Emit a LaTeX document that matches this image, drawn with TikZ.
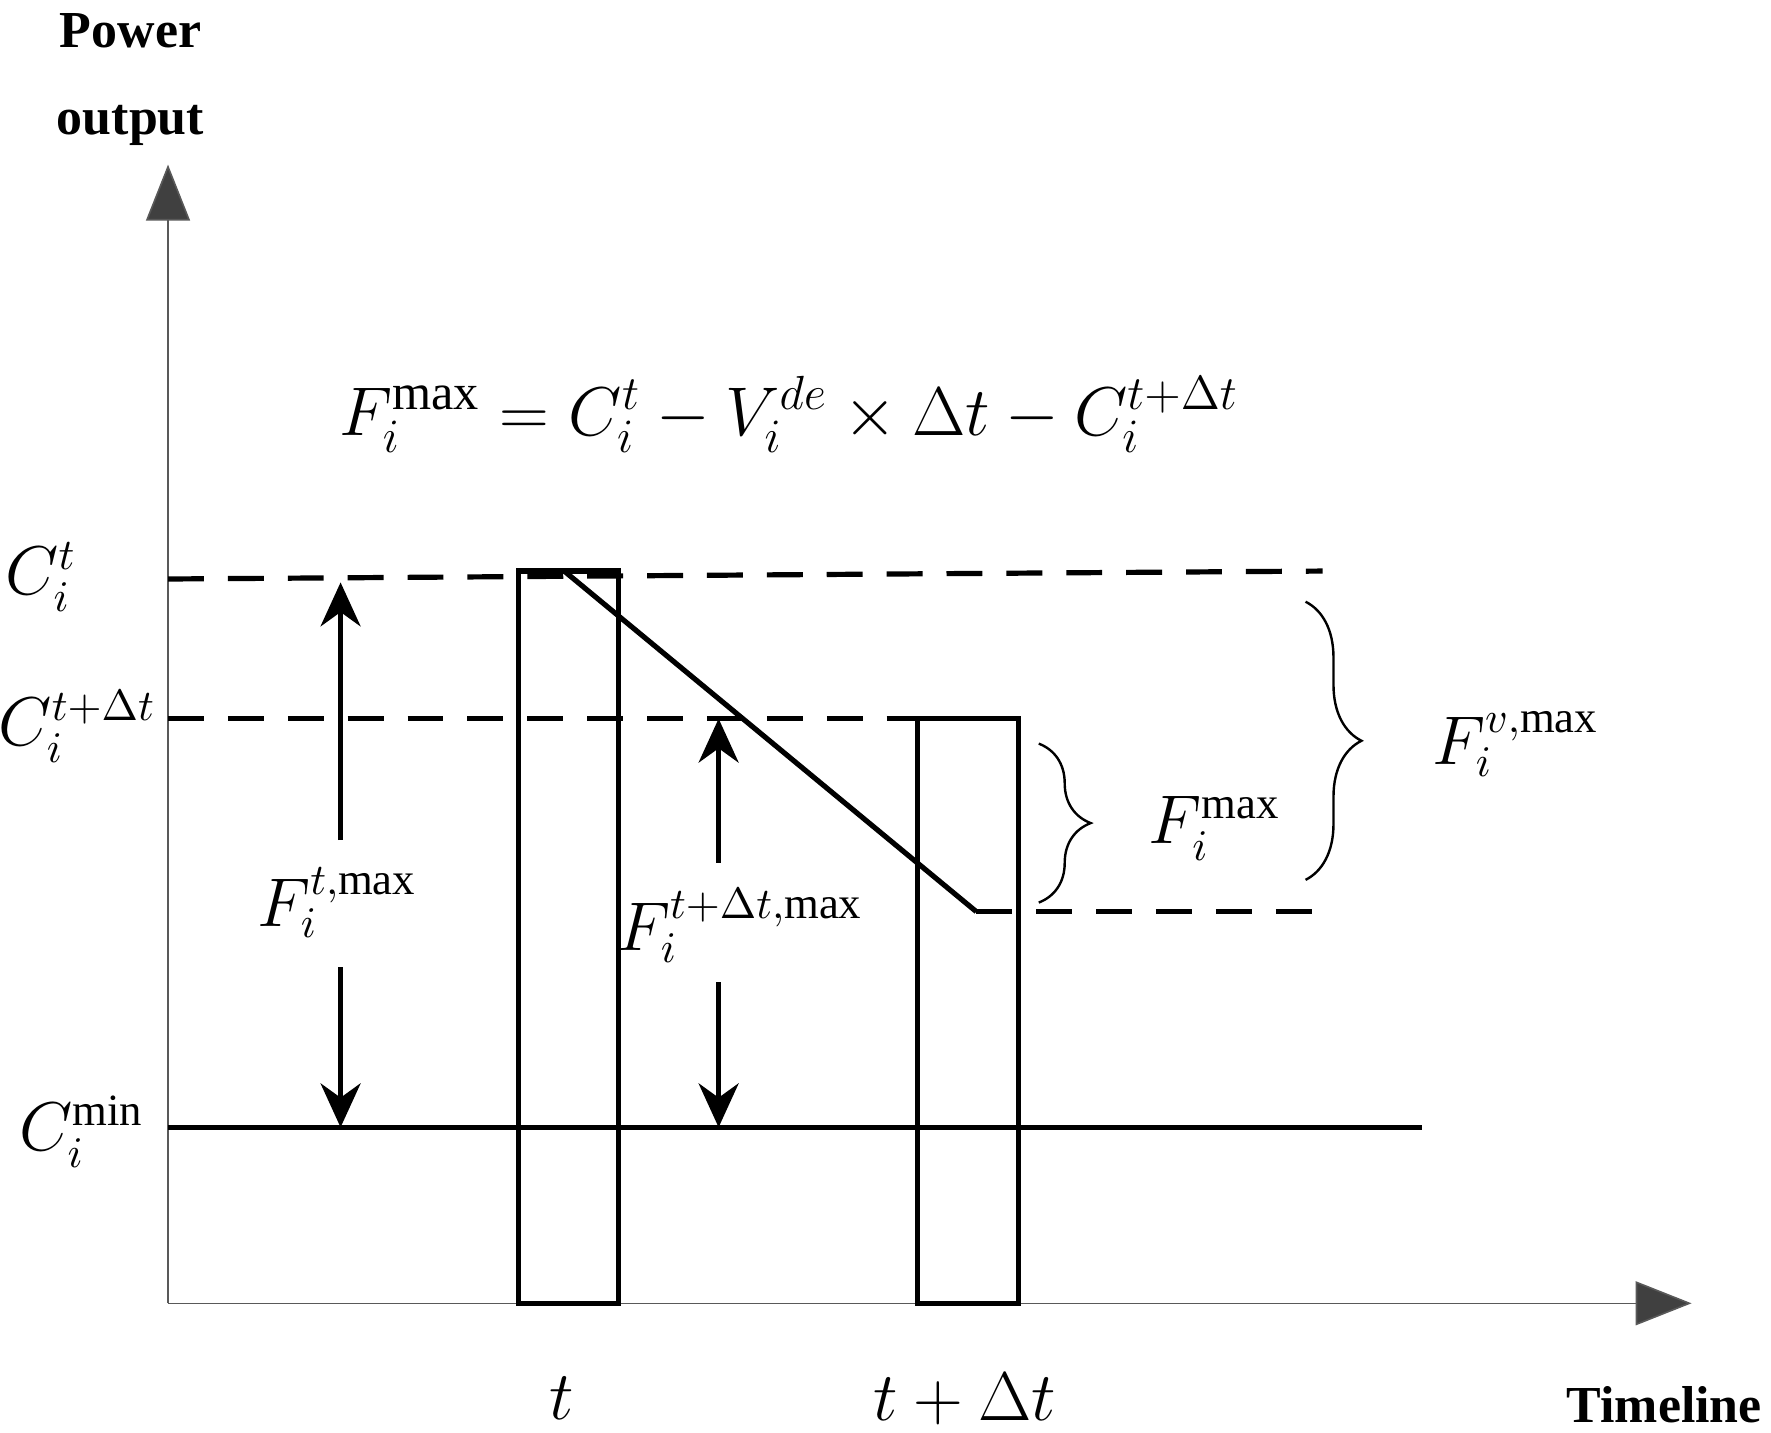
\documentclass[tikz,border=0pt]{standalone}
\usepackage{fontspec}
\setmainfont{Liberation Serif}
\usetikzlibrary{decorations.pathreplacing,arrows.meta}
\begin{document}
\begin{tikzpicture}[x=0.01cm,y=-0.01cm,
  thick line/.style={line width=1.3pt},
  dash line/.style={line width=1.3pt,dash pattern=on 9pt off 6pt},
  arr/.style={line width=1.3pt,-{Stealth[length=11pt,width=10pt]}},
  axis/.style={line width=0.4pt,gray!70!black,-{Triangle[length=14pt,width=11pt,fill=black!75]}},
  lbl/.style={font=\fontsize{16}{19}\selectfont},
  big/.style={font=\fontsize{18}{21}\selectfont},
  head/.style={font=\fontsize{13}{16}\selectfont\bfseries, align=center},
  br/.style={decorate,decoration={brace,amplitude=13pt},line width=0.6pt}]
\useasboundingbox (0,0) rectangle (1560,1262);
\coordinate (o) at (148,1148);
\coordinate (yt) at (148,145);
\coordinate (xt) at (1490,1148);
\draw[axis] (o) -- (yt);
\draw[axis] (o) -- (xt);
\node[head] (po) at (115,70) {Power\\[6pt]output};
\node[head] (tl) at (1466,1237) {Timeline};
% rectangles
\draw[thick line] (457,503) rectangle (545,1148);
\draw[thick line] (808,633) rectangle (897,1148);
% dashed lines
\coordinate (d1a) at (148,510); \coordinate (d1b) at (1165,503);
\draw[dash line] (d1a) -- (d1b);
\coordinate (d2a) at (148,633); \coordinate (d2b) at (808,633);
\draw[dash line] (d2a) -- (d2b);
\coordinate (d3a) at (860,803); \coordinate (d3b) at (1170,803);
\draw[dash line] (d3a) -- (d3b);
\coordinate (s1) at (497,503);
\draw[thick line] (s1) -- (d3a);
\coordinate (m1) at (148,993); \coordinate (m2) at (1253,993);
\draw[thick line] (m1) -- (m2);
% arrows
\coordinate (a1) at (300,740); \coordinate (a1t) at (300,513);
\coordinate (a2) at (300,852); \coordinate (a2t) at (300,993);
\coordinate (b1) at (633,760); \coordinate (b1t) at (633,633);
\coordinate (b2) at (633,865); \coordinate (b2t) at (633,993);
\draw[arr] (a1) -- (a1t); \draw[arr] (a2) -- (a2t);
\draw[arr] (b1) -- (b1t); \draw[arr] (b2) -- (b2t);
% braces
\coordinate (c1) at (915,655); \coordinate (c2) at (915,795);
\draw[br] (c1) -- (c2);
\coordinate (e1) at (1150,530); \coordinate (e2) at (1150,775);
\draw[br,decoration={amplitude=14pt}] (e1) -- (e2);
% labels
\node[big] (form) at (695,365) {$F_i^{\max}=C_i^{t}-V_i^{de}\times\Delta t-C_i^{t+\Delta t}$};
\node[lbl] (l1) at (297,795) {$F_i^{t,\max}$};
\node[lbl] (l2) at (652,815) {$F_i^{t+\Delta t,\max}$};
\node[lbl] (l3) at (1070,730) {$F_i^{\max}$};
\node[lbl] (l4) at (1335,655) {$F_i^{v,\max}$};
\node[lbl] (c1l) at (36,508) {$C_i^{t}$};
\node[lbl] (c2l) at (68,640) {$C_i^{t+\Delta t}$};
\node[lbl] (c3l) at (72,997) {$C_i^{\min}$};
\node[big] (tt) at (495,1232) {$t$};
\node[big] (tdt) at (850,1232) {$t+\Delta t$};
\end{tikzpicture}
\end{document}
